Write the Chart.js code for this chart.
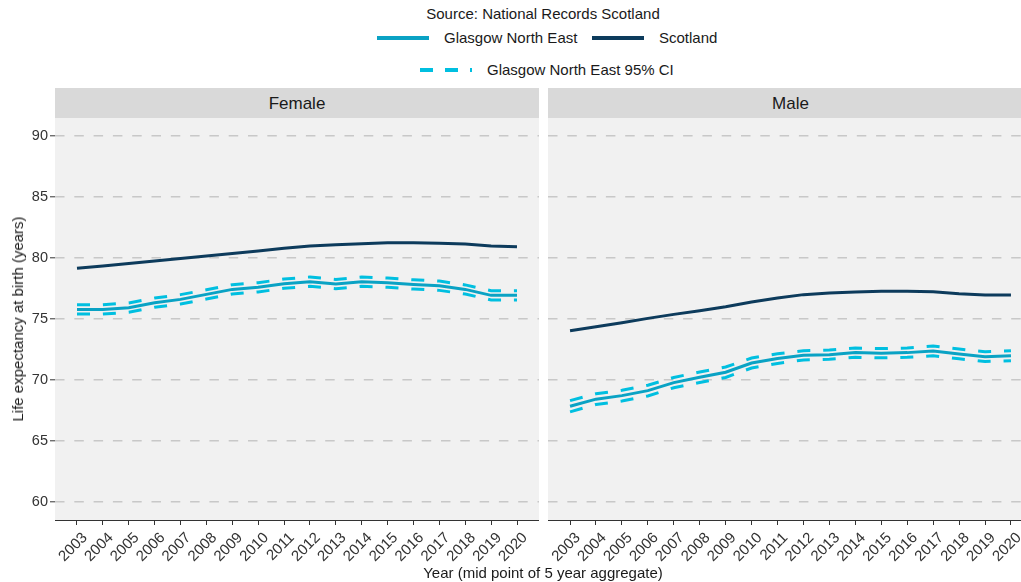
<!DOCTYPE html>
<html>
<head>
<meta charset="utf-8">
<script src="https://cdn.jsdelivr.net/npm/chart.js@4"></script>
<style>
    body { margin: 0; background: #fff; font-family: "Liberation Sans", Arial, sans-serif; color: #1a1a1a; }
    #wrap { position: relative; width: 1021px; height: 582px; overflow: hidden; }
    .abs { position: absolute; white-space: nowrap; }
    .lbl { font-size: 15px; line-height: 18px; }
    .key { position: absolute; height: 4px; }
    .strip { position: absolute; top: 88px; height: 30px; background: #d9d9d9; font-size: 17px; line-height: 31px; text-align: center; }
    .panel { position: absolute; top: 118px; height: 464px; }
</style>
</head>
<body>
<div id="wrap">
    <div class="abs lbl" style="left:0;width:1086px;top:5px;text-align:center">Source: National Records Scotland</div>

    <div class="key" style="left:377px;top:36px;width:52px;background:#0aa2c4"></div>
    <div class="abs lbl" style="left:444px;top:29px">Glasgow North East</div>
    <div class="key" style="left:592px;top:36px;width:52px;background:#0d3b5c"></div>
    <div class="abs lbl" style="left:659px;top:29px">Scotland</div>

    <div class="key" style="left:420px;top:68px;width:52px;background:repeating-linear-gradient(90deg,#00bfe0 0 13px,transparent 13px 25px)"></div>
    <div class="abs lbl" style="left:487px;top:61px">Glasgow North East 95% CI</div>

    <div class="strip" style="left:55px;width:484px">Female</div>
    <div class="strip" style="left:548px;width:485px">Male</div>

    <div class="panel" style="left:0;width:539px"><canvas id="chart-female"></canvas></div>
    <div class="panel" style="left:548px;width:485px"><canvas id="chart-male"></canvas></div>

    <div class="abs lbl" style="left:18px;top:319px;transform:translate(-50%,-50%) rotate(-90deg)">Life expectancy at birth (years)</div>
    <div class="abs lbl" style="left:0;width:1086px;top:564px;text-align:center">Year (mid point of 5 year aggregate)</div>
</div>

<script>
const years = [2003, 2004, 2005, 2006, 2007, 2008, 2009, 2010, 2011, 2012, 2013, 2014, 2015, 2016, 2017, 2018, 2019, 2020];
const yTicks = [60, 65, 70, 75, 80, 85, 90];

const femaleScotland = [79.16, 79.36, 79.55, 79.76, 79.97, 80.17, 80.38, 80.58, 80.8, 81.0, 81.1, 81.18, 81.25, 81.25, 81.22, 81.15, 81.0, 80.93];
const femaleGNE = [75.79, 75.79, 75.93, 76.34, 76.61, 77.02, 77.43, 77.6, 77.9, 78.06, 77.87, 78.06, 77.98, 77.84, 77.73, 77.43, 76.94, 76.94];
const femaleUpper = [76.17, 76.17, 76.32, 76.72, 77.0, 77.4, 77.82, 77.98, 78.28, 78.45, 78.25, 78.45, 78.36, 78.22, 78.11, 77.8, 77.32, 77.32];
const femaleLower = [75.41, 75.41, 75.55, 75.96, 76.23, 76.64, 77.05, 77.22, 77.52, 77.68, 77.49, 77.68, 77.6, 77.46, 77.35, 77.05, 76.56, 76.56];

const maleScotland = [74.04, 74.37, 74.7, 75.05, 75.38, 75.68, 76.01, 76.39, 76.72, 77.0, 77.13, 77.21, 77.27, 77.27, 77.24, 77.08, 76.97, 76.97];
const maleGNE = [67.84, 68.42, 68.71, 69.12, 69.78, 70.22, 70.63, 71.39, 71.75, 72.02, 72.07, 72.24, 72.19, 72.24, 72.38, 72.13, 71.91, 71.99];
const maleUpper = [68.3, 68.86, 69.15, 69.56, 70.2, 70.65, 71.06, 71.8, 72.15, 72.4, 72.45, 72.62, 72.57, 72.62, 72.78, 72.53, 72.31, 72.4];
const maleLower = [67.38, 67.98, 68.27, 68.68, 69.36, 69.79, 70.2, 70.98, 71.35, 71.64, 71.69, 71.86, 71.81, 71.86, 71.98, 71.73, 71.51, 71.58];

const GNE_COL = '#0aa2c4';
const SCOT_COL = '#0d3b5c';
const CI_COL = '#00bfe0';

function pts(vals) {
    return vals.map((v, i) => ({ x: years[i], y: v }));
}

// panel background, like the ggplot grey panel
const panelBg = {
    id: 'panelBg',
    beforeDraw(chart) {
        const a = chart.chartArea;
        const ctx = chart.ctx;
        ctx.save();
        ctx.fillStyle = '#f1f1f1';
        ctx.fillRect(a.left, a.top, a.right - a.left, a.bottom - a.top);
        ctx.restore();
    }
};

function noPad(scale) {
    scale.paddingLeft = 0;
    scale.paddingRight = 0;
    scale.paddingTop = 0;
    scale.paddingBottom = 0;
}

function renderPanel(id, scot, gne, upper, lower, showY) {
    const ctx = document.getElementById(id).getContext('2d');
    const line = (data, color, dash, order) => ({
        data: pts(data),
        borderColor: color,
        borderWidth: 3,
        borderDash: dash,
        pointRadius: 0,
        tension: 0,
        fill: false,
        order: order
    });
    return new Chart(ctx, {
        type: 'line',
        data: {
            datasets: [
                line(scot, SCOT_COL, [], 1),
                line(gne, GNE_COL, [], 2),
                line(upper, CI_COL, [13, 12.9], 3),
                line(lower, CI_COL, [13, 12.9], 4)
            ]
        },
        options: {
            animation: false,
            responsive: true,
            maintainAspectRatio: false,
            events: [],
            layout: { padding: 0 },
            plugins: { legend: { display: false }, tooltip: { enabled: false } },
            scales: {
                x: {
                    type: 'linear',
                    min: 2002.15,
                    max: 2020.85,
                    afterBuildTicks: s => { s.ticks = years.map(v => ({ value: v })); },
                    afterFit: s => { s.height = 62; noPad(s); },
                    grid: { drawOnChartArea: false, drawTicks: true, tickLength: 5, tickColor: '#333', tickWidth: 1 },
                    border: { display: true, color: '#333', width: 1 },
                    ticks: {
                        autoSkip: false,
                        maxRotation: 45,
                        minRotation: 45,
                        padding: 4,
                        labelOffset: 8,
                        color: '#333',
                        font: { family: 'Liberation Sans', size: 15 },
                        callback: v => String(v)
                    }
                },
                y: {
                    min: 58.5,
                    max: 91.5,
                    afterBuildTicks: s => { s.ticks = yTicks.map(v => ({ value: v })); },
                    afterFit: s => { s.width = showY ? 55 : 0; noPad(s); },
                    grid: { color: '#c8c8c8', lineWidth: 1.6, drawTicks: showY, tickLength: 5, tickColor: '#333', tickWidth: 1 },
                    border: { display: false, dash: [9.5, 9.8] },
                    ticks: {
                        display: showY,
                        padding: 2,
                        color: '#333',
                        font: { family: 'Liberation Sans', size: 14.5 }
                    }
                }
            }
        },
        plugins: [panelBg]
    });
}

document.addEventListener('DOMContentLoaded', () => {
    renderPanel('chart-female', femaleScotland, femaleGNE, femaleUpper, femaleLower, true);
    renderPanel('chart-male', maleScotland, maleGNE, maleUpper, maleLower, false);
});
</script>
</body>
</html>
